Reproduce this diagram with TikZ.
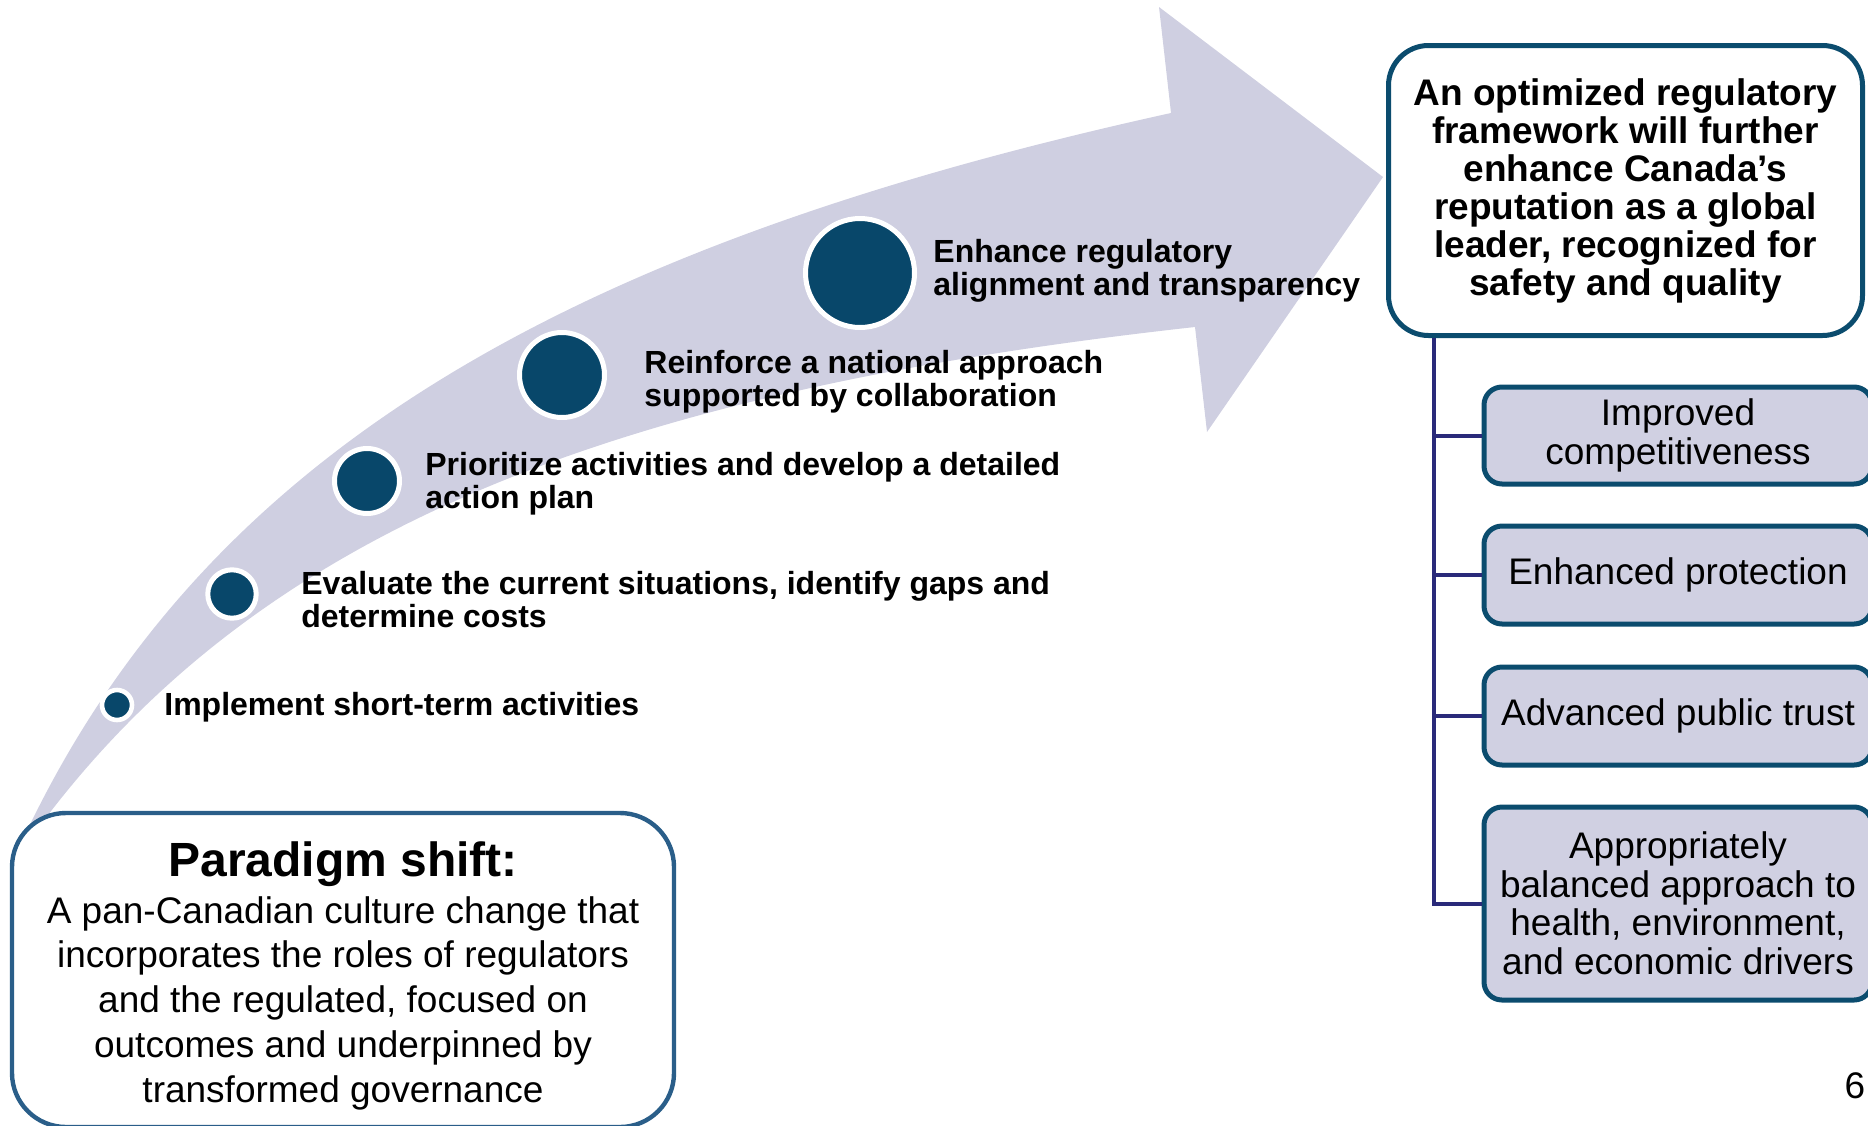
\documentclass[tikz,border=0pt]{standalone}
\usepackage{fontspec}
\setmainfont{Liberation Sans}
\definecolor{arrowfill}{RGB}{207,207,225}
\definecolor{dot}{RGB}{8,71,106}
\definecolor{boxline}{RGB}{11,76,110}
\definecolor{pline}{RGB}{42,94,137}
\definecolor{boxfill}{RGB}{208,208,226}
\definecolor{connc}{RGB}{42,42,122}
\begin{document}
\begin{tikzpicture}[x=0.5pt,y=-0.5pt,
  dotnode/.style={circle,fill=dot,draw=white,inner sep=0pt},
  steplabel/.style={anchor=north west,inner sep=0pt,align=left,font=\fontsize{16}{16.5}\selectfont\bfseries},
  goalbox/.style={draw=boxline,line width=2.5pt,fill=white,rounded corners=20pt,inner sep=0pt,align=center,font=\fontsize{18.5}{19}\selectfont\bfseries,minimum width=237pt,minimum height=145pt},
  outbox/.style={draw=boxline,line width=2.5pt,fill=boxfill,rounded corners=9pt,inner sep=0pt,align=center,minimum width=194pt,font=\fontsize{18.5}{19.25}\selectfont},
  connline/.style={draw=connc,line width=2pt},
]
\useasboundingbox (0,0) rectangle (1868,1125);
\clip (0,0) rectangle (1868,1125);

% curved arrow
\fill[arrowfill] (10,868) .. controls (189.6,455.4) and (565.3,246.3) .. (1171,113)
  -- (1159,7) -- (1383,177) -- (1207,432) -- (1195,327)
  .. controls (598.6,393) and (232.8,536) .. (10,868) -- cycle;

% steps
\node[dotnode,minimum size=15pt,line width=2.3pt] (c1) at (117,705) {};
\node[dotnode,minimum size=24.2pt,line width=2.5pt] (c2) at (232,594) {};
\node[dotnode,minimum size=32.5pt,line width=2.5pt] (c3) at (367,481) {};
\node[dotnode,minimum size=42.5pt,line width=2.5pt] (c4) at (562,375) {};
\node[dotnode,minimum size=54.5pt,line width=2.5pt] (c5) at (860,273) {};

\node[steplabel] (l1) at (164,692) {Implement short-term activities};
\node[steplabel] (l2) at (301,571) {Evaluate the current situations, identify gaps and\\determine costs};
\node[steplabel] (l3) at (425,452) {Prioritize activities and develop a detailed\\action plan};
\node[steplabel] (l4) at (644,350) {Reinforce a national approach\\supported by collaboration};
\node[steplabel] (l5) at (933,239) {Enhance regulatory\\alignment and transparency};

% goal box and outcomes
\node[goalbox] (goal) at (1625.5,190.5) {An optimized regulatory\\framework will further\\enhance Canada’s\\reputation as a global\\leader, recognized for\\safety and quality};

\node[outbox,minimum height=48.5pt] (b1) at (1678,435.5) {Improved\\competitiveness};
\node[outbox,minimum height=49pt] (b2) at (1678,575) {Enhanced protection};
\node[outbox,minimum height=49pt] (b3) at (1678,716) {Advanced public trust};
\node[outbox,minimum height=96.5pt] (b4) at (1678,903.5) {Appropriately\\balanced approach to\\health, environment,\\and economic drivers};

\path (goal.south west) ++(47.5,0) coordinate (trunk);
\draw[connline] (trunk) |- (b4.west);
\foreach \b in {b1,b2,b3} \draw[connline] (trunk |- \b.west) -- (\b.west);

% paradigm shift box
\node[draw=pline,line width=2.2pt,fill=white,rounded corners=27pt,minimum width=331pt,minimum height=157pt,inner sep=0pt] (shift) at (343,970) {};
\node[anchor=north,inner sep=0pt,font=\fontsize{24}{28}\selectfont\bfseries] (shifttitle) at (343,841) {Paradigm shift:};
\node[anchor=north,inner sep=0pt,align=center,font=\fontsize{18.5}{22.35}\selectfont] (shiftbody) at (343,896) {A pan-Canadian culture change that\\incorporates the roles of regulators\\and the regulated, focused on\\outcomes and underpinned by\\transformed governance};

\node[inner sep=0pt,font=\fontsize{18.5}{20}\selectfont] (pagenum) at (1855,1086) {6};
\end{tikzpicture}
\end{document}
